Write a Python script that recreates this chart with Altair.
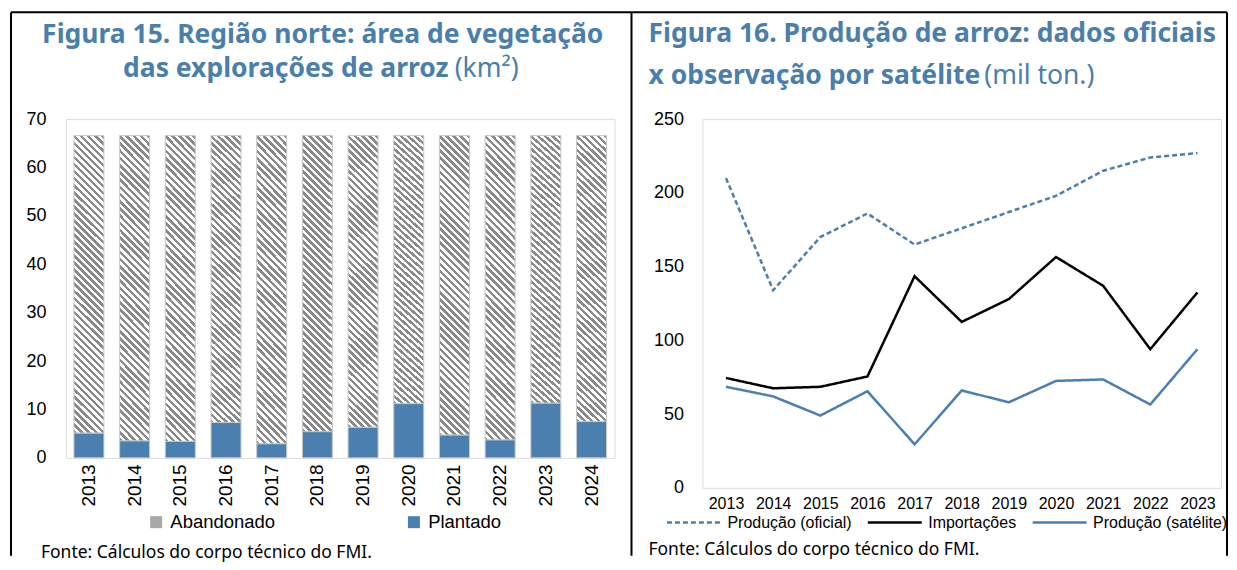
import altair as alt
import pandas as pd

# ---------------- data ----------------
years_left = ["2013", "2014", "2015", "2016", "2017", "2018",
              "2019", "2020", "2021", "2022", "2023", "2024"]
plantado = [5.1, 3.5, 3.4, 7.3, 2.9, 5.4, 6.3, 11.2, 4.7, 3.7, 11.3, 7.5]
abandonado = [61.5, 63.1, 63.2, 59.3, 63.7, 61.2, 60.3, 55.4, 61.9, 62.9, 55.3, 59.1]

years_right = ["2013", "2014", "2015", "2016", "2017", "2018",
               "2019", "2020", "2021", "2022", "2023"]
producao_oficial = [210, 134, 170, 186, 165, 176, 187, 198, 215, 224, 227]
importacoes = [74.5, 67.5, 68.5, 75.5, 143.5, 112.5, 128, 156.5, 137, 94, 132.5]
producao_satelite = [68.5, 62, 49, 65.5, 29.5, 66, 58, 72.5, 73.5, 56.5, 94]

series_names = ["Produção (oficial)", "Importações", "Produção (satélite)"]
left_series = ["Abandonado", "Plantado"]
left_ticks = [0, 10, 20, 30, 40, 50, 60, 70]
right_ticks = [0, 50, 100, 150, 200, 250]

# ---------------- styles ----------------
BLUE = "#4a7fb0"
TITLE_BLUE = "#4a7eab"
HATCH_GRAY = "#8a8a8a"
FRAME = "#b4b4b4"
SANS = "Liberation Sans, Arial, sans-serif"
UI = "Noto Sans, Open Sans, sans-serif"
TS = 26.5  # title font size

W1, H1 = 549, 339
W2, H2 = 519, 369

# diagonal hatch built from a striped linear gradient
N_STRIPES = 47
stops = []
for k in range(N_STRIPES):
    a = k / N_STRIPES
    b = (k + 0.5) / N_STRIPES
    c = (k + 1) / N_STRIPES
    stops += [alt.GradientStop(offset=a, color=HATCH_GRAY),
              alt.GradientStop(offset=b, color=HATCH_GRAY),
              alt.GradientStop(offset=b, color="#ffffff"),
              alt.GradientStop(offset=c, color="#ffffff")]
hatch = alt.LinearGradient(gradient="linear", stops=stops,
                           x1=0, y1=1, x2=0.11, y2=-0.1)


def txt(s, x, y, size, weight="normal", align="left", color="black",
        font=UI, baseline="alphabetic"):
    return alt.Chart(pd.DataFrame({"t": [s]})).mark_text(
        align=align, baseline=baseline, font=font, fontSize=size,
        fontWeight=weight, color=color
    ).encode(x=alt.value(x), y=alt.value(y), text="t:N")


def rule(x, x2, y, y2):
    return alt.Chart(pd.DataFrame({"r": [0]})).mark_rule(
        color="black", strokeWidth=2
    ).encode(x=alt.value(x), x2=alt.value(x2), y=alt.value(y), y2=alt.value(y2))


# ---------------- left chart ----------------
df_left = pd.DataFrame({"year": years_left, "plantado": plantado,
                        "abandonado": abandonado})

x_left = alt.X("year:N", title=None,
               scale=alt.Scale(paddingInner=0.344, paddingOuter=0.175),
               axis=alt.Axis(labelAngle=-90, labelFont=SANS, labelFontSize=19,
                             labelColor="black", labelPadding=6, ticks=False,
                             tickSize=0, domain=False))
y_left = alt.Y("plantado:Q", title=None,
               scale=alt.Scale(domain=[0, 70]),
               axis=alt.Axis(values=left_ticks, labelFont=SANS, labelFontSize=18,
                             labelColor="black", labelPadding=20, ticks=False,
                             tickSize=0, domain=False, grid=False))

base_left = alt.Chart(df_left)

bars_plant = base_left.transform_calculate(area="'Plantado'").mark_bar(
    stroke="#c8c8c8", strokeWidth=1
).encode(
    x=x_left, y=y_left,
    fill=alt.Fill("area:N",
                  scale=alt.Scale(domain=left_series, range=["#a8a8a8", BLUE]),
                  legend=alt.Legend(title=None, orient="none", legendX=81,
                                    legendY=394, direction="horizontal",
                                    columns=2, columnPadding=129,
                                    gridAlign="each", padding=0,
                                    symbolType="square", symbolSize=144,
                                    symbolStrokeWidth=0, labelFont=SANS,
                                    labelFontSize=18.5, labelOffset=5,
                                    labelColor="black"))
)

bars_aband = base_left.transform_calculate(
    top="datum.plantado + datum.abandonado"
).mark_bar(fill=hatch, stroke="#c8c8c8", strokeWidth=1).encode(
    x=x_left, y=y_left, y2="top:Q"
)

left = alt.layer(
    bars_aband, bars_plant,
    txt("Figura 15. Região norte: área de vegetação", 257, -76, TS, "bold",
        "center", TITLE_BLUE),
    txt("das explorações de arroz", 383, -42, TS, "bold", "right", TITLE_BLUE),
    txt("(km²)", 389, -42, TS, "normal", "left", TITLE_BLUE),
    txt("Fonte: Cálculos do corpo técnico do FMI.", -25, 434, 17.5,
        baseline="middle"),
    rule(-55, 1162, -107, -107),
    rule(-55, -55, -107, 437),
    rule(566, 566, -107, 437),
    rule(1162, 1162, -107, 437),
).properties(width=W1, height=H1)

# ---------------- right chart ----------------
rows = []
for name, vals in zip(series_names, [producao_oficial, importacoes, producao_satelite]):
    for yr, v in zip(years_right, vals):
        rows.append({"year": yr, "serie": name, "value": v})
df_right = pd.DataFrame(rows)

right_legend = alt.Legend(title=None, orient="none", legendX=-37, legendY=375,
                          direction="horizontal", columns=3, columnPadding=10,
                          gridAlign="each", padding=0,
                          symbolType="stroke", symbolSize=2916,
                          symbolStrokeWidth=2.5, labelFont=SANS,
                          labelFontSize=16, labelOffset=5, labelColor="black")

lines = alt.Chart(df_right).mark_line(strokeWidth=2.5).encode(
    x=alt.X("year:N", title=None,
            scale=alt.Scale(type="point", padding=0.5),
            axis=alt.Axis(labelAngle=0, labelFont=SANS, labelFontSize=16,
                          labelColor="black", labelPadding=8, ticks=False,
                          tickSize=0, domain=False)),
    y=alt.Y("value:Q", title=None, scale=alt.Scale(domain=[0, 250]),
            axis=alt.Axis(values=right_ticks, labelFont=SANS, labelFontSize=18,
                          labelColor="black", labelPadding=19, ticks=False,
                          tickSize=0, domain=False, grid=False)),
    stroke=alt.Stroke("serie:N",
                      scale=alt.Scale(domain=series_names,
                                      range=[BLUE, "black", BLUE]),
                      legend=right_legend),
    strokeDash=alt.StrokeDash("serie:N",
                              scale=alt.Scale(domain=series_names,
                                              range=[[5, 3], [1, 0], [1, 0]]),
                              legend=right_legend),
    order=alt.Order("year:N"),
)

right = alt.layer(
    lines,
    txt("Figura 16. Produção de arroz: dados oficiais", -54, -77, TS, "bold",
        "left", TITLE_BLUE),
    txt("x observação por satélite", -54, -35, TS, "bold", "left", TITLE_BLUE),
    txt("(mil ton.)", 282, -35, TS, "normal", "left", TITLE_BLUE),
    txt("Fonte: Cálculos do corpo técnico do FMI.", -54, 431, 17.5,
        baseline="middle"),
).properties(width=W2, height=H2)

chart = alt.hconcat(left, right, spacing=88, bounds="flush").resolve_scale(
    fill="independent", stroke="independent", strokeDash="independent"
).resolve_legend(
    fill="independent", stroke="independent", strokeDash="independent"
).properties(
    padding={"left": 1, "top": 2, "right": 0, "bottom": 0}
).configure_view(stroke=FRAME, strokeWidth=1.5).configure(background="white")

chart.save("out.html", embed_options={"renderer": "svg", "actions": False})
